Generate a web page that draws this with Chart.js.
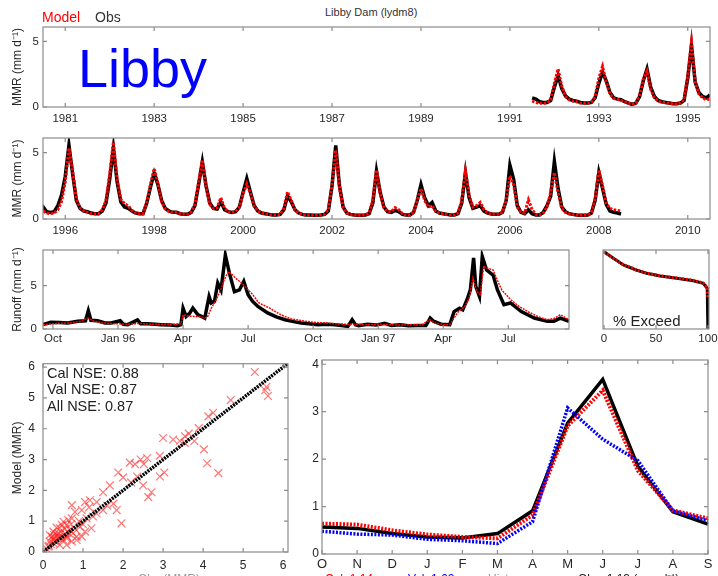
<!DOCTYPE html>
<html>
<head>
<meta charset="utf-8">
<script src="https://cdn.jsdelivr.net/npm/chart.js@4.4.1/dist/chart.umd.min.js"></script>
<style>
  html, body { margin: 0; padding: 0; background: #fff; overflow: hidden; width: 718px; height: 576px; }
  body { position: relative; font-family: 'Liberation Sans', Arial, Helvetica, sans-serif; }
  canvas { position: absolute; }
  .t { position: absolute; white-space: nowrap; line-height: 1; }
</style>
</head>
<body>
<canvas id="c1" width="718" height="105" style="left:0;top:22px"></canvas>
<canvas id="c2" width="718" height="106" style="left:0;top:133px"></canvas>
<canvas id="c3" width="578" height="104" style="left:0;top:245px"></canvas>
<canvas id="c4" width="119" height="104" style="left:599px;top:245px"></canvas>
<canvas id="c5" width="300" height="225" style="left:0;top:357px"></canvas>
<canvas id="c6" width="418" height="229" style="left:300px;top:355px"></canvas>

<div class="t" style="left:325px;top:7px;font-size:11px;color:#333">Libby Dam (lydm8)</div>
<div class="t" style="left:42px;top:10px;font-size:14px;color:#ff0000">Model</div>
<div class="t" style="left:95px;top:10px;font-size:14px;color:#333">Obs</div>
<div class="t" style="left:78px;top:41px;font-size:54px;color:#0000ff">Libby</div>
<div class="t" style="left:613px;top:313px;font-size:15px;color:#222">% Exceed</div>
<div class="t" style="left:47px;top:366px;font-size:14.5px;color:#222">Cal NSE: 0.88</div>
<div class="t" style="left:47px;top:382px;font-size:14.5px;color:#222">Val NSE: 0.87</div>
<div class="t" style="left:47px;top:399px;font-size:14.5px;color:#222">All NSE: 0.87</div>
<div class="t" style="left:138px;top:573px;font-size:12px;color:#999">Obs (MMR)</div>
<div class="t" style="left:325px;top:573px;font-size:12px;color:#ff0000">Cal: 1.14</div>
<div class="t" style="left:408px;top:573px;font-size:12px;color:#0000ff">Val: 1.02</div>
<div class="t" style="left:488px;top:573px;font-size:12px;color:#999">Hist</div>
<div class="t" style="left:578px;top:573px;font-size:12px;color:#222">Obs: 1.13 (mm d⁻¹)</div>

<script>
// monthly mean runoff, one row per year block, first point at 1991.5
const MMR_START = 1991.5;
const MMR_OBS = [
  0.70, 0.60, 0.40, 0.35, 0.35, 0.50, 1.50, 2.40, 1.40, 0.85, 0.60, 0.50,
  0.45, 0.35, 0.30, 0.30, 0.35, 0.70, 1.80, 2.65, 2.00, 1.10, 0.70, 0.60,
  0.55, 0.40, 0.30, 0.20, 0.30, 0.80, 2.00, 2.90, 1.50, 0.80, 0.50, 0.40,
  0.35, 0.30, 0.25, 0.25, 0.30, 0.50, 2.20, 4.70, 1.90, 1.10, 0.80, 0.70,
  0.92, 0.55, 0.50, 0.55, 1.00, 1.80, 3.20, 5.55, 3.40, 1.40, 0.80, 0.60,
  0.55, 0.45, 0.40, 0.40, 0.60, 1.20, 3.00, 5.35, 2.80, 1.30, 0.90, 0.80,
  0.60, 0.45, 0.40, 0.40, 1.20, 2.40, 3.45, 2.60, 1.40, 0.80, 0.60, 0.50,
  0.50, 0.40, 0.35, 0.35, 0.50, 1.00, 2.60, 4.30, 2.50, 1.20, 0.80, 0.75,
  1.30, 0.70, 0.55, 0.50, 0.55, 0.90, 2.00, 3.05, 2.00, 1.00, 0.60, 0.45,
  0.40, 0.35, 0.30, 0.30, 0.35, 0.70, 1.75, 1.30, 0.70, 0.45, 0.35, 0.30,
  0.30, 0.28, 0.28, 0.30, 0.35, 0.60, 2.50, 5.55, 2.50, 0.90, 0.45, 0.35,
  0.30, 0.28, 0.28, 0.30, 0.40, 1.20, 3.60, 2.00, 0.90, 0.55, 0.50, 0.65,
  0.55, 0.35, 0.30, 0.30, 0.50, 1.40, 2.60, 1.60, 1.00, 1.25, 0.60, 0.45,
  0.40, 0.35, 0.30, 0.30, 0.40, 1.20, 3.50, 1.60, 0.80, 0.90, 1.00, 0.60,
  0.45, 0.38, 0.35, 0.35, 0.50, 1.40, 4.05, 3.00, 1.00, 0.50, 0.40, 0.70,
  0.40, 0.30, 0.30, 0.50, 1.00, 1.70, 4.35, 2.30, 0.90, 0.55, 0.40, 0.35,
  0.30, 0.28, 0.28, 0.30, 0.45, 1.40, 3.50, 2.30, 1.10, 0.60, 0.50, 0.45,
  0.38
];
const MMR_MOD = [
  0.45, 0.35, 0.28, 0.28, 0.30, 0.55, 1.80, 2.90, 1.60, 0.80, 0.55, 0.45,
  0.40, 0.30, 0.28, 0.28, 0.35, 0.80, 2.20, 3.10, 1.90, 1.00, 0.65, 0.60,
  0.50, 0.40, 0.30, 0.20, 0.30, 0.90, 2.10, 2.75, 1.35, 0.70, 0.45, 0.35,
  0.35, 0.28, 0.25, 0.25, 0.30, 0.55, 2.40, 4.95, 1.90, 1.00, 0.70, 0.55,
  0.60, 0.45, 0.40, 0.45, 0.70, 1.30, 2.80, 5.35, 3.60, 1.50, 0.85, 0.60,
  0.50, 0.40, 0.40, 0.40, 0.70, 1.40, 3.40, 5.80, 3.00, 1.50, 1.15, 1.00,
  0.65, 0.45, 0.40, 0.40, 1.30, 2.60, 3.80, 2.70, 1.30, 0.75, 0.55, 0.50,
  0.50, 0.40, 0.35, 0.35, 0.55, 1.10, 2.80, 4.45, 2.40, 1.10, 0.80, 0.85,
  1.60, 0.80, 0.55, 0.50, 0.55, 0.90, 1.90, 2.65, 1.90, 0.95, 0.60, 0.45,
  0.40, 0.35, 0.30, 0.30, 0.35, 0.80, 2.05, 1.40, 0.70, 0.45, 0.35, 0.30,
  0.30, 0.28, 0.28, 0.30, 0.35, 0.70, 2.60, 5.20, 2.40, 0.85, 0.45, 0.35,
  0.30, 0.28, 0.28, 0.30, 0.45, 1.40, 3.70, 1.90, 0.85, 0.55, 0.55, 0.85,
  0.70, 0.40, 0.30, 0.30, 0.50, 1.40, 2.30, 1.40, 0.90, 1.00, 0.55, 0.45,
  0.40, 0.35, 0.30, 0.30, 0.45, 1.40, 3.60, 1.80, 0.90, 1.00, 1.25, 0.70,
  0.45, 0.38, 0.35, 0.35, 0.50, 1.40, 3.25, 2.60, 0.90, 0.50, 0.45, 1.45,
  0.70, 0.35, 0.30, 0.45, 0.90, 2.00, 3.50, 2.00, 0.80, 0.50, 0.40, 0.35,
  0.30, 0.28, 0.28, 0.30, 0.50, 1.50, 3.70, 2.50, 1.20, 0.80, 0.70, 0.65,
  0.60
];
const YEAR_TICKS_A = [1981, 1983, 1985, 1987, 1989, 1991, 1993, 1995];
const YEAR_TICKS_B = [1996, 1998, 2000, 2002, 2004, 2006, 2008, 2010];
const MMR_TICKS = [0, 5];

// daily runoff WY1996-1997, x = months since 1 Oct 1995
const RUN_OBS = [
  [-0.46, 0.5], [-0.1, 0.77], [0.3, 0.75], [0.68, 0.7], [1.14, 0.9], [1.5, 0.95], [1.63, 2.1], [1.75, 1.0],
  [2.06, 0.95], [2.4, 0.7], [2.68, 0.7], [3.1, 0.95], [3.25, 0.55], [3.45, 0.5], [3.9, 1.05], [4.05, 0.6],
  [4.37, 0.6], [4.7, 0.55], [5.0, 0.5], [5.4, 0.45], [5.75, 0.38], [5.9, 0.5], [6.0, 2.4], [6.14, 1.45],
  [6.3, 1.8], [6.45, 2.4], [6.68, 1.65], [7.0, 1.25], [7.2, 3.75], [7.3, 3.0], [7.45, 3.2], [7.6, 5.3],
  [7.75, 4.5], [7.95, 8.5], [8.14, 6.4], [8.37, 4.3], [8.6, 4.5], [8.8, 5.5], [9.0, 3.95], [9.2, 3.2],
  [9.45, 2.6], [9.9, 1.85], [10.3, 1.4], [10.7, 1.07], [11.1, 0.85], [11.45, 0.7], [11.8, 0.6], [12.2, 0.5],
  [12.6, 0.55], [13.0, 0.5], [13.3, 0.4], [13.6, 0.3], [13.8, 1.07], [13.95, 0.5], [14.1, 0.38], [14.5, 0.55],
  [14.9, 0.45], [15.3, 0.65], [15.6, 0.4], [16.0, 0.5], [16.4, 0.38], [16.8, 0.4], [17.2, 0.4], [17.4, 1.26],
  [17.55, 0.9], [17.9, 0.55], [18.3, 0.5], [18.5, 2.0], [18.75, 2.4], [18.9, 2.2], [19.1, 3.4], [19.25, 4.5],
  [19.4, 8.2], [19.5, 4.9], [19.67, 3.75], [19.8, 8.35], [20.0, 6.8], [20.3, 6.2], [20.5, 4.5], [20.8, 2.8],
  [21.1, 3.0], [21.6, 2.0], [22.2, 1.26], [22.8, 0.88], [23.1, 0.9], [23.4, 1.26], [23.8, 0.88]
];
const RUN_MOD = [
  [-0.46, 0.5], [0.2, 0.65], [0.8, 0.7], [1.3, 0.9], [1.6, 1.26], [1.9, 0.9], [2.3, 0.7], [3.0, 0.6],
  [3.5, 0.55], [4.0, 0.65], [4.5, 0.55], [5.0, 0.55], [5.5, 0.5], [5.9, 0.6], [6.0, 1.65], [6.2, 1.5],
  [6.5, 1.45], [6.8, 1.4], [7.0, 1.26], [7.15, 1.5], [7.3, 2.4], [7.45, 3.0], [7.6, 3.75], [7.75, 4.6],
  [7.9, 5.7], [8.1, 6.6], [8.25, 6.3], [8.4, 5.9], [8.7, 5.3], [9.0, 4.5], [9.2, 4.0], [9.5, 3.0],
  [10.0, 2.4], [10.5, 1.65], [11.0, 1.15], [11.5, 0.95], [12.0, 0.77], [12.5, 0.7], [13.0, 0.6], [13.5, 0.55],
  [14.0, 0.55], [14.5, 0.5], [15.0, 0.55], [15.5, 0.5], [16.0, 0.45], [16.5, 0.5], [17.0, 0.45], [17.37, 1.07],
  [17.6, 0.7], [18.0, 0.5], [18.3, 0.5], [18.7, 2.0], [19.0, 2.6], [19.2, 3.6], [19.37, 5.9], [19.55, 4.3],
  [19.7, 3.95], [19.87, 7.2], [20.05, 7.0], [20.3, 6.8], [20.5, 5.6], [20.7, 4.5], [21.1, 3.4], [21.5, 2.6],
  [21.9, 2.0], [22.4, 1.4], [22.8, 1.07], [23.1, 1.2], [23.4, 1.65], [23.8, 1.07]
];
const RUN_TICKS = [0, 3, 6, 9, 12, 15, 18, 21];
const RUN_TICK_LABELS = ['Oct', 'Jan 96', 'Apr', 'Jul', 'Oct', 'Jan 97', 'Apr', 'Jul'];

// flow duration: [% exceedance, runoff]
const EXC_OBS = [[0, 8.6], [9, 4.84], [18.6, 2.69], [31, 1.74], [41, 1.30], [54, 1.03], [70, 0.84],
  [86, 0.68], [95.5, 0.54], [99.3, 0.35], [99.8, 0.126], [100, 0.01]];
const EXC_MOD = [[0, 8.4], [9, 4.9], [18.6, 2.75], [31, 1.78], [41, 1.32], [54, 1.05], [70, 0.86],
  [86, 0.70], [95.5, 0.56], [99.3, 0.37], [99.8, 0.15]];
const EXC_TICKS = [0, 50, 100];

// scatter: [obs, model] monthly
const SCATTER = [
  [5.29, 5.84], [5.58, 5.36], [5.62, 5.06], [5.55, 5.25], [4.69, 4.93], [4.25, 4.52], [4.13, 4.40], [3.89, 4.02],
  [3.64, 3.84], [3.54, 3.54], [3.78, 3.60], [3.42, 3.60], [3.25, 3.65], [3.00, 3.70], [4.02, 3.33], [4.10, 2.88],
  [4.38, 2.56], [2.92, 3.12], [3.03, 2.58], [2.92, 2.45], [2.44, 3.00], [2.30, 2.85], [2.52, 2.85], [2.17, 2.90],
  [2.00, 2.42], [1.88, 2.58], [2.20, 2.26], [2.50, 2.16], [2.71, 1.94], [2.63, 1.78], [1.67, 2.16], [1.50, 1.94],
  [1.76, 1.57], [1.84, 1.36], [1.96, 0.93], [1.50, 1.36], [1.34, 1.25], [1.17, 1.68], [1.05, 1.62], [1.34, 1.62],
  [0.97, 1.36], [0.72, 1.52], [0.80, 1.30], [1.09, 1.09], [0.92, 0.82], [1.21, 0.77], [1.05, 0.66], [0.72, 1.09],
  [0.59, 0.88], [0.67, 0.72], [0.51, 0.98], [0.42, 0.77], [0.38, 0.61], [0.30, 0.45], [0.26, 0.29], [0.17, 0.34],
  [0.22, 0.50], [0.34, 0.34], [0.47, 0.50], [0.55, 0.61], [0.59, 0.45], [0.72, 0.34], [0.84, 0.50], [0.84, 0.39],
  [0.42, 0.23], [0.13, 0.18], [0.09, 0.10], [0.26, 0.66], [0.34, 0.79], [0.47, 0.88], [0.63, 1.04], [0.17, 0.55],
  [0.59, 0.23], [0.97, 0.50], [1.15, 1.45], [1.25, 1.15], [0.90, 1.00], [0.65, 0.60], [0.50, 0.40], [0.40, 0.50],
  [0.30, 0.35], [0.20, 0.25], [0.35, 0.55], [0.45, 0.65], [0.55, 0.75], [0.70, 0.90], [0.25, 0.40], [0.15, 0.20],
  [0.60, 0.50], [0.80, 0.75], [1.00, 0.90], [0.75, 0.60], [0.28, 0.55], [0.38, 0.45], [2.35, 2.45], [2.60, 3.05],
  [3.55, 3.75], [1.60, 1.50]
];
const ONE_TO_ONE = [0, 6.12];
const SC_TICKS = [0, 1, 2, 3, 4, 5, 6];

// mean monthly runoff, water year order
const MONTHS = ['O', 'N', 'D', 'J', 'F', 'M', 'A', 'M', 'J', 'J', 'A', 'S'];
const MON_OBS = [0.57, 0.54, 0.43, 0.36, 0.34, 0.43, 0.91, 2.76, 3.68, 1.85, 0.89, 0.63];
const MON_CAL = [0.64, 0.62, 0.50, 0.41, 0.36, 0.33, 0.82, 2.70, 3.45, 1.76, 0.92, 0.75];
const MON_VAL = [0.48, 0.42, 0.40, 0.31, 0.28, 0.22, 0.68, 3.08, 2.42, 1.97, 0.91, 0.70];
const MON_TICKS = [0, 1, 2, 3, 4];

Chart.defaults.font.family = "'Liberation Sans', Arial, Helvetica, sans-serif";
Chart.defaults.color = '#262626';
Chart.defaults.animation = false;

// matlab-style box with inward ticks on all four sides
const framePlugin = {
  id: 'frame',
  afterDraw(chart, args, opts) {
    const { ctx, chartArea: a } = chart;
    const xs = chart.scales.x, ys = chart.scales.y;
    const len = 4;
    ctx.save();
    ctx.strokeStyle = '#8c8c8c';
    ctx.lineWidth = 1.2;
    ctx.beginPath();
    if (opts.xTicks !== false) xs.ticks.forEach((t, i) => {
      const p = xs.getPixelForTick(i);
      ctx.moveTo(p, a.bottom); ctx.lineTo(p, a.bottom - len);
      ctx.moveTo(p, a.top); ctx.lineTo(p, a.top + len);
    });
    if (opts.yTicks !== false) ys.ticks.forEach((t, i) => {
      const p = ys.getPixelForTick(i);
      ctx.moveTo(a.left, p); ctx.lineTo(a.left + len, p);
      ctx.moveTo(a.right, p); ctx.lineTo(a.right - len, p);
    });
    ctx.stroke();
    ctx.strokeRect(a.left, a.top, a.width, a.height);
    ctx.restore();
  }
};

function axis(min, max, ticks, o) {
  const ax = {
    type: o.type || 'linear', min, max,
    offset: false,
    grid: { display: false, drawTicks: false },
    border: { display: false },
    ticks: {
      display: o.show !== false,
      padding: o.pad, font: { size: o.size || 11.5 },
      color: '#262626', autoSkip: false, maxRotation: 0,
      callback: function (v, i) { return o.text ? o.text[i] : (o.type === 'category' ? this.getLabelForValue(v) : String(v)); },
    },
    title: o.title
      ? { display: true, text: o.title, font: { size: 12 }, color: '#262626', padding: { top: 10, bottom: 0 } }
      : { display: false },
    afterFit: s => {
      if (o.w != null) s.width = o.w;
      if (o.h != null) s.height = o.h;
      s.paddingTop = s.paddingBottom = s.paddingLeft = s.paddingRight = 0;
    },
  };
  if (ticks) ax.afterBuildTicks = s => { s.ticks = ticks.map(v => ({ value: v })); };
  return ax;
}

function baseOptions(pad, scales, frame) {
  return {
    responsive: false,
    animation: false,
    layout: { padding: { top: pad.top, right: pad.right, left: 0, bottom: 0 } },
    plugins: { legend: { display: false }, tooltip: { enabled: false }, frame: frame || {} },
    elements: { point: { radius: 0 }, line: { tension: 0 } },
    scales,
  };
}

const pairs = arr => arr.map(([x, y]) => ({ x, y }));
const mmrPoints = vals => vals.map((v, i) => ({ x: MMR_START + i / 12, y: v }));

function mmrChart(id, min, max, ticks) {
  new Chart(document.getElementById(id), {
    type: 'line',
    data: {
      datasets: [
        { data: mmrPoints(MMR_MOD), borderColor: '#ff0000', borderWidth: 3, borderDash: [2.5, 1.5] },
        { data: mmrPoints(MMR_OBS), borderColor: '#000000', borderWidth: 3.5 },
      ],
    },
    options: baseOptions({ top: 5, right: 8 }, {
      x: axis(min, max, ticks, { h: 20, pad: 5 }),
      y: axis(0, 6.1, MMR_TICKS, { w: 43, pad: 4, title: 'MMR (mm d⁻¹)' }),
    }),
    plugins: [framePlugin],
  });
}
mmrChart('c1', 1980.5, 1995.5, YEAR_TICKS_A);
mmrChart('c2', 1995.5, 2010.5, YEAR_TICKS_B);

new Chart(document.getElementById('c3'), {
  type: 'line',
  data: {
    datasets: [
      { data: pairs(RUN_MOD), borderColor: '#ff0000', borderWidth: 1.5, borderDash: [2, 1] },
      { data: pairs(RUN_OBS), borderColor: '#000000', borderWidth: 3.5 },
    ],
  },
  options: baseOptions({ top: 5, right: 9 }, {
    x: axis(-0.46, 23.8, RUN_TICKS, { h: 20, pad: 3, text: RUN_TICK_LABELS }),
    y: axis(0, 9.1, MMR_TICKS, { w: 43, pad: 6, title: 'Runoff (mm d⁻¹)' }),
  }),
  plugins: [framePlugin],
});

new Chart(document.getElementById('c4'), {
  type: 'line',
  data: {
    datasets: [
      { data: pairs(EXC_MOD), borderColor: '#ff0000', borderWidth: 3, borderDash: [2, 1.5] },
      { data: pairs(EXC_OBS), borderColor: '#000000', borderWidth: 3 },
    ],
  },
  options: baseOptions({ top: 5, right: 9 }, {
    x: axis(-1, 101, EXC_TICKS, { h: 20, pad: 3 }),
    y: axis(0.01, 10, [0.01, 10], { type: 'logarithmic', w: 4, show: false }),
  }, { yTicks: false }),
  plugins: [framePlugin],
});

new Chart(document.getElementById('c5'), {
  type: 'scatter',
  data: {
    datasets: [
      { data: ONE_TO_ONE.map(v => ({ x: v, y: v })), showLine: true, borderColor: '#000000', borderWidth: 3.5, borderDash: [2, 1], pointRadius: 0 },
      { data: pairs(SCATTER), pointStyle: 'crossRot', pointRadius: 5.5, borderWidth: 1.2,
        borderColor: 'rgba(255,30,30,0.6)', backgroundColor: 'rgba(0,0,0,0)' },
    ],
  },
  options: baseOptions({ top: 5, right: 12 }, {
    x: axis(0, 6.12, SC_TICKS, { h: 30, pad: 6, size: 12 }),
    y: axis(0, 6.11, SC_TICKS, { w: 43, pad: 8, size: 12, title: 'Model (MMR)' }),
  }),
  plugins: [framePlugin],
});

new Chart(document.getElementById('c6'), {
  type: 'line',
  data: {
    labels: MONTHS,
    datasets: [
      { data: MON_VAL, borderColor: '#0000ff', borderWidth: 3.5, borderDash: [2, 1.5] },
      { data: MON_CAL, borderColor: '#ff0000', borderWidth: 4, borderDash: [2, 1.5] },
      { data: MON_OBS, borderColor: '#000000', borderWidth: 3.5 },
    ],
  },
  options: baseOptions({ top: 5, right: 10 }, {
    x: axis(undefined, undefined, null, { type: 'category', h: 30, pad: 3, size: 13 }),
    y: axis(0, 4.09, MON_TICKS, { w: 22, pad: 3, size: 12 }),
  }),
  plugins: [framePlugin],
});
</script>
</body>
</html>
